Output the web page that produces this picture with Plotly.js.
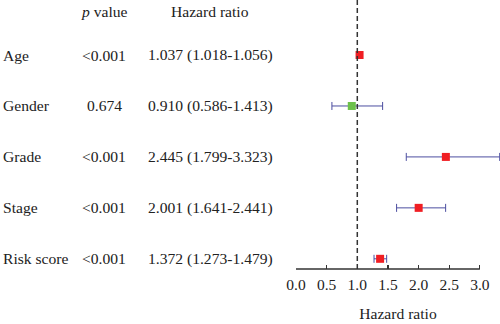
<!DOCTYPE html>
<html><head><meta charset="utf-8">
<script src="https://cdn.plot.ly/plotly-3.0.1.min.js"></script>
<style>html,body{margin:0;padding:0;background:#fff}#c{width:500px;height:324px}</style>
</head><body><div id="c"></div>
<script>
const variables = ["Age", "Gender", "Grade", "Stage", "Risk score"];
const pValues = ["<0.001", "0.674", "<0.001", "<0.001", "<0.001"];
const hr = [1.037, 0.910, 2.445, 2.001, 1.372];
const hrLow = [1.018, 0.586, 1.799, 1.641, 1.273];
const hrHigh = [1.056, 1.413, 3.323, 2.441, 1.479];
const xTicks = [0, 0.5, 1.0, 1.5, 2.0, 2.5, 3.0];
const xTickText = ["0.0", "0.5", "1.0", "1.5", "2.0", "2.5", "3.0"];

const n = variables.length;
const rowY = variables.map((_, i) => n - i);
const colors = hr.map((v, i) => pValues[i].startsWith("<") ? "#f01e23" : "#6cc04a");
const fontFam = "Liberation Serif, Times New Roman, serif";
const fs = 15.6;

const trace = {
  type: "scatter", mode: "markers",
  x: hr, y: rowY,
  marker: {symbol: "square", size: 8, color: colors},
  error_x: {type: "data", symmetric: false,
    array: hr.map((v, i) => hrHigh[i] - v),
    arrayminus: hr.map((v, i) => v - hrLow[i]),
    color: "#4c4ea0", thickness: 1, width: 4},
  cliponaxis: false, hoverinfo: "none"
};

const plotL = 296, plotW = 204;
const px = p => (p - plotL) / plotW;
const ann = [];
const hdrY = n + 0.85;
const txt = (x, y, t, anchor) => ann.push({xref: "paper", yref: "y", x: px(x), y: y, text: t, showarrow: false,
  xanchor: anchor, yanchor: "middle", font: {family: fontFam, size: fs, color: "#222"}});
txt(104, hdrY, "<i>p</i> value", "center");
txt(210, hdrY, "Hazard ratio", "center");
variables.forEach((v, i) => {
  txt(1, rowY[i], v, "left");
  txt(104, rowY[i], pValues[i].replace("<", "&lt;"), "center");
  txt(210, rowY[i], hr[i].toFixed(3) + " (" + hrLow[i].toFixed(3) + "-" + hrHigh[i].toFixed(3) + ")", "center");
});

const layout = {
  width: 500, height: 324,
  margin: {l: plotL, r: 0, t: 0, b: 55},
  paper_bgcolor: "#fff", plot_bgcolor: "#fff",
  showlegend: false,
  xaxis: {range: [0, 3.328], tickvals: xTicks, ticktext: xTickText,
    ticks: "inside", ticklen: 4, tickwidth: 1.2, tickcolor: "#333",
    showline: false, showgrid: false, zeroline: false,
    ticklabelstandoff: 4,
    tickfont: {family: fontFam, size: 15.5, color: "#222"},
    title: {text: "Hazard ratio", font: {family: fontFam, size: fs, color: "#222"}, standoff: 16}},
  yaxis: {range: [0.8, n + 1.08], showticklabels: false, showgrid: false, zeroline: false, showline: false, ticks: ""},
  shapes: [
    {type: "line", xref: "x", yref: "paper", x0: 1, x1: 1, y0: 0, y1: 1, line: {color: "#333", width: 1.5, dash: "5px,3px"}},
    {type: "line", xref: "x", yref: "paper", x0: xTicks[0], x1: xTicks[xTicks.length - 1], y0: 0, y1: 0, line: {color: "#333", width: 1.5}}
  ],
  annotations: ann
};
Plotly.newPlot("c", [trace], layout, {staticPlot: true, displayModeBar: false});
</script></body></html>
